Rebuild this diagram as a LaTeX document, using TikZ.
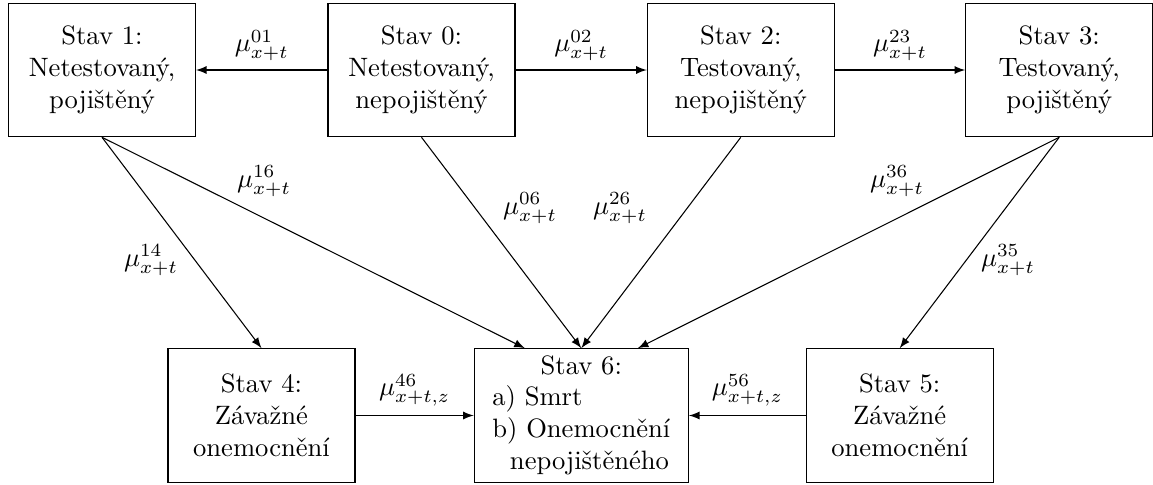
\documentclass[tikz,border=0pt]{standalone}
\usetikzlibrary{arrows.meta}
\begin{document}
\begin{tikzpicture}[x=0.376pt,y=-0.376pt,
  box/.style={draw, minimum width=70.3pt, minimum height=50.2pt, align=center, inner sep=3pt},
  arr/.style={-latex},
  lbl/.style={inner sep=1pt}]
\useasboundingbox (0,0) rectangle (1153,484);
% top row
\node[box] (s1) at (102,70)    {Stav 1:\\Netestovaný,\\pojištěný};
\node[box] (s0) at (421.5,70)  {Stav 0:\\Netestovaný,\\nepojištěný};
\node[box] (s2) at (740.8,70)  {Stav 2:\\Testovaný,\\nepojištěný};
\node[box] (s3) at (1059.2,70) {Stav 3:\\Testovaný,\\pojištěný};
% bottom row
\node[box] (s4) at (261.5,415.5) {Stav 4:\\Závažné\\onemocnění};
\node[box, minimum width=80.5pt, inner ysep=1pt] (s6) at (581.3,415.5)
  {\begin{tabular}{@{}l@{}}\multicolumn{1}{@{}c@{}}{Stav 6:}\\a) Smrt\\b) Onemocnění\\~~nepojištěného\end{tabular}};
\node[box] (s5) at (899.7,415.5) {Stav 5:\\Závažné\\onemocnění};
% horizontal transitions
\draw[arr] (s0) -- node[above] {$\mu^{01}_{x+t}$} (s1);
\draw[arr] (s0) -- node[above] {$\mu^{02}_{x+t}$} (s2);
\draw[arr] (s2) -- node[above] {$\mu^{23}_{x+t}$} (s3);
\draw[arr] (s4) -- node[above] {$\mu^{46}_{x+t,z}$} (s6);
\draw[arr] (s5) -- node[above] {$\mu^{56}_{x+t,z}$} (s6);
% diagonal transitions
\draw[arr] (s1.south) -- (s4.north);
\draw[arr] (s1.south) -- (s6.130);
\draw[arr] (s0.south) -- (s6.north);
\draw[arr] (s2.south) -- (s6.north);
\draw[arr] (s3.south) -- (s6.50);
\draw[arr] (s3.south) -- (s5.north);
% diagonal labels
\node[lbl] (l14) at (151,260)  {$\mu^{14}_{x+t}$};
\node[lbl] (l16) at (264,181)  {$\mu^{16}_{x+t}$};
\node[lbl] (l06) at (530,208)  {$\mu^{06}_{x+t}$};
\node[lbl] (l26) at (620,208)  {$\mu^{26}_{x+t}$};
\node[lbl] (l36) at (897,181)  {$\mu^{36}_{x+t}$};
\node[lbl] (l35) at (1008,260) {$\mu^{35}_{x+t}$};
\end{tikzpicture}
\end{document}
